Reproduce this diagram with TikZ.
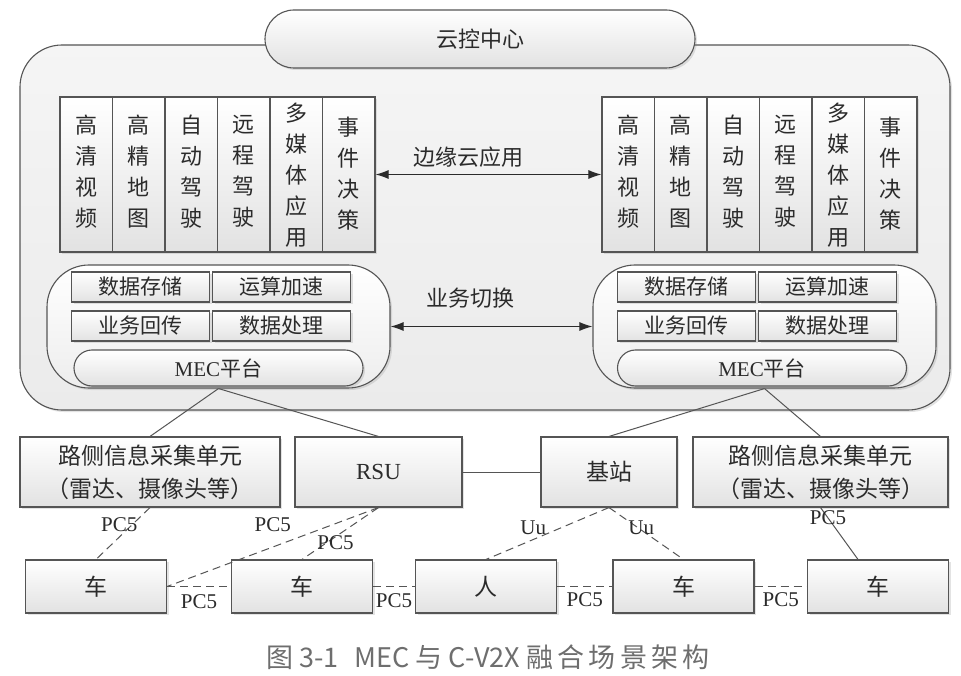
\documentclass[tikz,border=0pt]{standalone}
\usepackage{fontspec}
\setmainfont{Liberation Serif}
\newfontfamily\cjk{Noto Sans CJK SC}
\newfontfamily\capfont[LetterSpace=16]{Noto Sans CJK SC}
\usepackage{tikz}
\usetikzlibrary{arrows.meta,positioning,shadows}
\definecolor{edge}{HTML}{555555}
\definecolor{boxbot}{HTML}{E2E2E2}
\definecolor{framebot}{HTML}{EBEBEB}
\definecolor{capgray}{HTML}{6E6E6E}
\definecolor{ink}{HTML}{2B2B2B}
\tikzset{
  shadebox/.style={draw=edge,line width=1.1pt,top color=white,bottom color=boxbot,text=ink,
    drop shadow={opacity=0.22,shadow xshift=2pt,shadow yshift=-2pt}},
  cloudframe/.style={shadebox,top color=white!96!black,bottom color=framebot,rounded corners=42pt,
    minimum width=930pt,minimum height=365pt},
  titlecap/.style={shadebox,rounded corners=29pt,minimum width=430pt,minimum height=58pt,
    font=\cjk\fontsize{22}{22}\selectfont},
  appcol/.style={shadebox,minimum width=52.5pt,minimum height=155pt,inner sep=0pt,align=center,
    font=\cjk\fontsize{22}{31}\selectfont},
  mecframe/.style={shadebox,top color=white,bottom color=white!93!black,rounded corners=42pt,
    minimum width=343pt,minimum height=123pt},
  svcbox/.style={shadebox,minimum width=138pt,minimum height=30pt,inner sep=0pt,
    font=\cjk\fontsize{21}{21}\selectfont},
  mecbase/.style={shadebox,rounded corners=18pt,minimum width=289pt,minimum height=36pt,inner sep=0pt,
    font=\cjk\fontsize{21}{21}\selectfont},
  unitbox/.style={shadebox,minimum width=#1,minimum height=70pt,inner sep=0pt,align=center,
    font=\cjk\fontsize{23}{33}\selectfont},
  termbox/.style={shadebox,minimum width=141pt,minimum height=53pt,inner sep=0pt,
    font=\cjk\fontsize{23}{23}\selectfont},
  wire/.style={draw=edge,line width=1pt},
  radio/.style={wire,dash pattern=on 8pt off 5pt},
  duplex/.style={{Latex[length=13pt,width=9pt]}-{Latex[length=13pt,width=9pt]},draw=ink,line width=1pt},
  note/.style={text=ink,font=\cjk\fontsize{22}{22}\selectfont},
  lbl/.style={text=ink,inner sep=0pt,font=\rmfamily\fontsize{21}{21}\selectfont},
}
\newcommand{\appcols}[2]{% name prefix, left edge
  \foreach \txt/\dy [count=\i from 0] in {{高\\清\\视\\频}/8,{高\\精\\地\\图}/8,{自\\动\\驾\\驶}/8,
      {远\\程\\驾\\驶}/8,{多\\媒\\体\\应\\用}/0,{事\\件\\决\\策}/3}
    \node[appcol,text depth={\dy pt}] (#1\i) at ({#2+26.25+52.5*\i},174.5) {\txt};}
\newcommand{\mecplat}[3]{% name, centre x, shift of the base
  \node[mecframe] (#1) at (#2,326.5) {};
  \node[svcbox] (#1a) at ({#2-78},287) {数据存储};
  \node[svcbox] (#1b) at ({#2+63},287) {运算加速};
  \node[svcbox] (#1c) at ({#2-78},326) {业务回传};
  \node[svcbox] (#1d) at ({#2+63},326) {数据处理};
  \node[mecbase] (#1p) at ({#2+#3},368) {{\rmfamily MEC}平台};}

\begin{document}
\begin{tikzpicture}[x=1pt,y=-1pt]
  \useasboundingbox[fill=white] (0,0) rectangle (961,676);
  % cloud control centre
  \node[cloudframe] (cloud) at (485,227.5) {};
  \node[titlecap] (title) at (480,39) {云控中心};
  \appcols{L}{60}
  \appcols{R}{602}
  \draw[duplex] (L5.east) -- (R0.west);
  \node[note] (edgeapp) at (468,157) {边缘云应用};
  \mecplat{mecL}{218.5}{0}
  \mecplat{mecR}{764.5}{-2.5}
  \draw[duplex] (mecL.east) -- (mecR.west);
  \node[note] (handover) at (470,298) {业务切换};
  % roadside layer
  \node[unitbox=260pt] (sensL) at (150,472) {路侧信息采集单元\\（雷达、摄像头等）};
  \node[unitbox=167pt,font=\rmfamily\fontsize{23}{23}\selectfont] (rsu) at (378.5,472) {RSU};
  \node[unitbox=136pt] (bs) at (609,472) {基站};
  \node[unitbox=255pt] (sensR) at (820.5,472) {路侧信息采集单元\\（雷达、摄像头等）};
  % road users
  \node[termbox] (car1) at (96,586.5) {车};
  \node[termbox] (car2) at (302,586.5) {车};
  \node[termbox] (ped) at (486,586.5) {人};
  \node[termbox] (car3) at (683.5,586.5) {车};
  \node[termbox] (car4) at (878,586.5) {车};
  \draw[wire] (mecL.south) -- (sensL.north);
  \draw[wire] (mecL.south) -- (rsu.north);
  \draw[wire] (mecR.south) -- (bs.north);
  \draw[wire] (mecR.south) -- (sensR.north);
  \draw[wire] (rsu.east) -- (bs.west);
  \draw[radio] (sensL.south) -- (car1.north) node[lbl,pos=0.33,xshift=-13pt] (p1) {PC5};
  \draw[radio] (rsu.south) -- (car1.east) node[lbl,pos=0.5,yshift=22pt] (p2) {PC5};
  \draw[radio] (rsu.south) -- (car2.north) node[lbl,pos=0.68,xshift=9pt] (p3) {PC5};
  \draw[radio] (car1.east) -- (car2.west) node[lbl,midway,yshift=-15pt] (p4) {PC5};
  \draw[radio] (car2.east) -- (ped.west) node[lbl,midway,yshift=-14pt] (p5) {PC5};
  \draw[radio] (bs.south) -- (ped.north) node[lbl,pos=0.38,xshift=-29pt] (u1) {Uu};
  \draw[radio] (bs.south) -- (car3.north) node[lbl,pos=0.38,xshift=4pt] (u2) {Uu};
  \draw[radio] (ped.east) -- (car3.west) node[lbl,midway,yshift=-13pt] (p6) {PC5};
  \draw[radio] (car3.east) -- (car4.west) node[lbl,midway,yshift=-13pt] (p7) {PC5};
  \draw[wire] (sensR.south) -- ([xshift=-20pt]car4.north) node[lbl,pos=0.2] (p8) {PC5};
  \node[text=capgray,font=\cjk\fontsize{27}{27}\selectfont] (caption) at (488,657)
    {{\capfont 图} 3-1\hspace{16pt}MEC {\capfont 与} C-V2X {\capfont 融合场景架构}};
\end{tikzpicture}
\end{document}
